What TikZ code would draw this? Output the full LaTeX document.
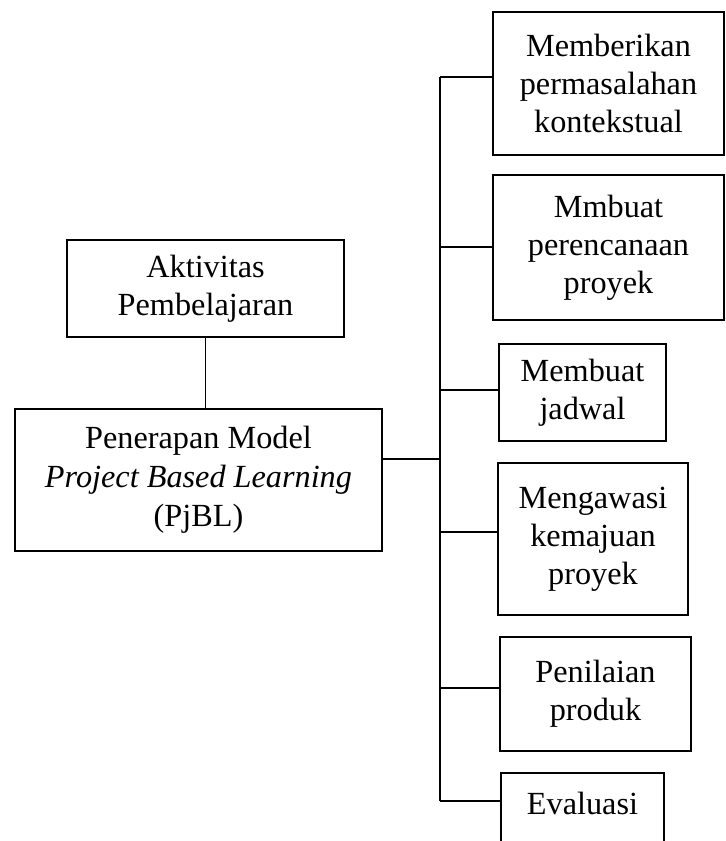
\documentclass[tikz,border=0pt]{standalone}
\usepackage{fontspec}
\setmainfont{Liberation Serif}
\usepackage{tikz}
\usetikzlibrary{positioning}
\tikzset{
    box/.style={rectangle, draw, line width=0.8pt, align=center, inner sep=0pt, font=\fontsize{12pt}{14.2pt}\selectfont},
    link/.style={line width=0.5pt, black}
}

\begin{document}
\begin{tikzpicture}[x=0.372pt, y=-0.372pt]
        \clip (0,0) rectangle (726,841);

        % Left side
        \node[box, minimum width=103pt, minimum height=36pt] (akt) at (205.5,288.5) {Aktivitas\\Pembelajaran};
        \node[box, minimum width=136.5pt, minimum height=52.8pt, font=\fontsize{12pt}{14.5pt}\selectfont] (pjbl) at (198.5,480) {Penerapan Model\\\textit{Project Based Learning}\\(PjBL)};

        % Right side: steps
        \node[box, minimum width=85.9pt, minimum height=53.2pt] (step1) at (608.5,83.5) {Memberikan\\permasalahan\\kontekstual};
        \node[box, minimum width=85.9pt, minimum height=53.9pt] (step2) at (608.5,247.5) {Mmbuat\\perencanaan\\proyek};
        \node[box, minimum width=62.1pt, minimum height=36.1pt] (step3) at (582.5,392.5) {Membuat\\jadwal};
        \node[box, minimum width=70.7pt, minimum height=56.5pt] (step4) at (593,539) {Mengawasi\\kemajuan\\proyek};
        \node[box, minimum width=71pt, minimum height=42.4pt] (step5) at (595.5,694) {Penilaian\\produk};
        \node[box, anchor=north, minimum width=60.6pt, text height=15.3pt, text depth=30pt] (step6) at (582.5,772) {Evaluasi};

        % Trunk points
        \coordinate (t1) at (440,77);
        \coordinate (t2) at (440,247);
        \coordinate (t3) at (440,390);
        \coordinate (tm) at (440,459);
        \coordinate (t4) at (440,532);
        \coordinate (t5) at (440,688);
        \coordinate (t6) at (440,801);

        % Connectors
        \draw[link] (akt.south) -- (akt.south |- pjbl.north);
        \draw[link] (tm -| pjbl.east) -- (tm);
        \draw[link] (t1) -- (t6);
        \draw[link] (t1) -- (t1 -| step1.west);
        \draw[link] (t2) -- (t2 -| step2.west);
        \draw[link] (t3) -- (t3 -| step3.west);
        \draw[link] (t4) -- (t4 -| step4.west);
        \draw[link] (t5) -- (t5 -| step5.west);
        \draw[link] (t6) -- (t6 -| step6.west);
    \end{tikzpicture}
\end{document}
